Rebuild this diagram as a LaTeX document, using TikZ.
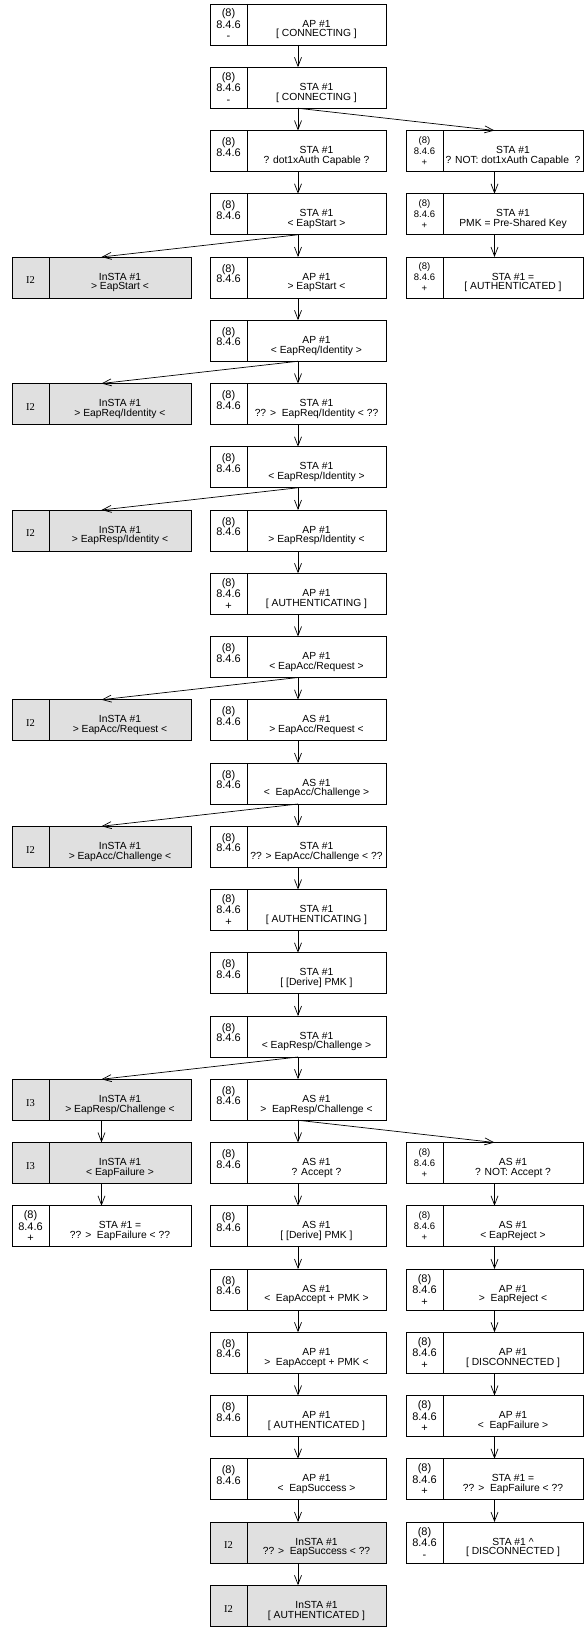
\documentclass[tikz,border=0pt]{standalone}
\usepackage{fontspec}
\setmainfont{Liberation Sans}
\newfontfamily\ifont{Liberation Serif}
\usetikzlibrary{arrows.meta,calc}
\definecolor{boxgray}{RGB}{224,224,224}
\tikzset{
 boxst/.style={draw, line width=0.7pt, minimum height=41pt, inner sep=0pt, outer sep=0pt, anchor=north west},
 wbox/.style={fill=white},
 gbox/.style={fill=boxgray},
 codetwo/.style={align=center, inner sep=0pt, font=\fontsize{11}{10.5}\selectfont, yshift=4pt},
 codethree/.style={align=center, inner sep=0pt, font=\fontsize{11}{11.5}\selectfont},
 codesmall/.style={align=center, inner sep=0pt, font=\fontsize{9.5}{11}\selectfont},
 codeI/.style={inner sep=0pt, font=\ifont\fontsize{10.5}{12}\selectfont, yshift=-3pt},
 maintext/.style={align=center, inner sep=0pt, font=\fontsize{10.3}{9.8}\selectfont, yshift=-5pt},
 arr/.style={line width=0.7pt, -{Straight Barb[length=9pt,width=7pt]}},
 divline/.style={line width=0.7pt},
}
% name, x0, row, width, fill, code style, code text, line1, line2
\newcommand\bx[9]{%
 \node[boxst,#5,minimum width=#4pt] (#1) at (#2,{4+63.25*#3}) {};
 \draw[divline] ($(#1.north west)+(37,0)$) -- ($(#1.south west)+(37,0)$);
 \node[#6] (#1c) at ($(#1.west)+(18.5,0)$) {#7};
 \node[maintext] (#1t) at ($(#1.center)+(18.5,0)$) {#8\\{}#9};
}
\newcommand\ctwo{(8)\\8.4.6}
\newcommand\cplus{(8)\\8.4.6\\+}
\newcommand\cminus{(8)\\8.4.6\\-}
\begin{document}
\begin{tikzpicture}[x=1pt,y=-1pt]
\useasboundingbox (0,0) rectangle (584,1627);
\fill[white] (0,0) rectangle (584,1627);
% centre column
\bx{C0}{210}{0}{176}{wbox}{codethree}{\cminus}{AP \#1}{[ CONNECTING ]}
\bx{C1}{210}{1}{176}{wbox}{codethree}{\cminus}{STA \#1}{[ CONNECTING ]}
\bx{C2}{210}{2}{176}{wbox}{codetwo}{\ctwo}{STA \#1}{? dot1xAuth Capable ?}
\bx{C3}{210}{3}{176}{wbox}{codetwo}{\ctwo}{STA \#1}{< EapStart >}
\bx{C4}{210}{4}{176}{wbox}{codetwo}{\ctwo}{AP \#1}{> EapStart <}
\bx{C5}{210}{5}{176}{wbox}{codetwo}{\ctwo}{AP \#1}{< EapReq/Identity >}
\bx{C6}{210}{6}{176}{wbox}{codetwo}{\ctwo}{STA \#1}{?? >~ EapReq/Identity < ??}
\bx{C7}{210}{7}{176}{wbox}{codetwo}{\ctwo}{STA \#1}{< EapResp/Identity >}
\bx{C8}{210}{8}{176}{wbox}{codetwo}{\ctwo}{AP \#1}{> EapResp/Identity <}
\bx{C9}{210}{9}{176}{wbox}{codethree}{\cplus}{AP \#1}{[ AUTHENTICATING ]}
\bx{C10}{210}{10}{176}{wbox}{codetwo}{\ctwo}{AP \#1}{< EapAcc/Request >}
\bx{C11}{210}{11}{176}{wbox}{codetwo}{\ctwo}{AS \#1}{> EapAcc/Request <}
\bx{C12}{210}{12}{176}{wbox}{codetwo}{\ctwo}{AS \#1}{<~ EapAcc/Challenge >}
\bx{C13}{210}{13}{176}{wbox}{codetwo}{\ctwo}{STA \#1}{?? > EapAcc/Challenge < ??}
\bx{C14}{210}{14}{176}{wbox}{codethree}{\cplus}{STA \#1}{[ AUTHENTICATING ]}
\bx{C15}{210}{15}{176}{wbox}{codetwo}{\ctwo}{STA \#1}{[ [Derive] PMK ]}
\bx{C16}{210}{16}{176}{wbox}{codetwo}{\ctwo}{STA \#1}{< EapResp/Challenge >}
\bx{C17}{210}{17}{176}{wbox}{codetwo}{\ctwo}{AS \#1}{>~ EapResp/Challenge <}
\bx{C18}{210}{18}{176}{wbox}{codetwo}{\ctwo}{AS \#1}{? Accept ?}
\bx{C19}{210}{19}{176}{wbox}{codetwo}{\ctwo}{AS \#1}{[ [Derive] PMK ]}
\bx{C20}{210}{20}{176}{wbox}{codetwo}{\ctwo}{AS \#1}{<~ EapAccept + PMK >}
\bx{C21}{210}{21}{176}{wbox}{codetwo}{\ctwo}{AP \#1}{>~ EapAccept + PMK <}
\bx{C22}{210}{22}{176}{wbox}{codetwo}{\ctwo}{AP \#1}{[ AUTHENTICATED ]}
\bx{C23}{210}{23}{176}{wbox}{codetwo}{\ctwo}{AP \#1}{<~ EapSuccess >}
\bx{C24}{210}{24}{176}{gbox}{codeI}{I2}{InSTA \#1}{?? >~ EapSuccess < ??}
\bx{C25}{210}{25}{176}{gbox}{codeI}{I2}{InSTA \#1}{[ AUTHENTICATED ]}
% left column
\bx{L4}{12}{4}{179}{gbox}{codeI}{I2}{InSTA \#1}{> EapStart <}
\bx{L6}{12}{6}{179}{gbox}{codeI}{I2}{InSTA \#1}{> EapReq/Identity <}
\bx{L8}{12}{8}{179}{gbox}{codeI}{I2}{InSTA \#1}{> EapResp/Identity <}
\bx{L11}{12}{11}{179}{gbox}{codeI}{I2}{InSTA \#1}{> EapAcc/Request <}
\bx{L13}{12}{13}{179}{gbox}{codeI}{I2}{InSTA \#1}{> EapAcc/Challenge <}
\bx{L17}{12}{17}{179}{gbox}{codeI}{I3}{InSTA \#1}{> EapResp/Challenge <}
\bx{L18}{12}{18}{179}{gbox}{codeI}{I3}{InSTA \#1}{< EapFailure >}
\bx{L19}{12}{19}{179}{wbox}{codethree}{\cplus}{STA \#1 =}{?? >~ EapFailure < ??}
% right column
\bx{R2}{406}{2}{177}{wbox}{codesmall}{\cplus}{STA \#1}{? NOT: dot1xAuth Capable\ \ ?}
\bx{R3}{406}{3}{177}{wbox}{codesmall}{\cplus}{STA \#1}{PMK = Pre-Shared Key}
\bx{R4}{406}{4}{177}{wbox}{codesmall}{\cplus}{STA \#1 =}{[ AUTHENTICATED ]}
\bx{R18}{406}{18}{177}{wbox}{codesmall}{\cplus}{AS \#1}{? NOT: Accept ?}
\bx{R19}{406}{19}{177}{wbox}{codesmall}{\cplus}{AS \#1}{< EapReject >}
\bx{R20}{406}{20}{177}{wbox}{codethree}{\cplus}{AP \#1}{>~ EapReject <}
\bx{R21}{406}{21}{177}{wbox}{codethree}{\cplus}{AP \#1}{[ DISCONNECTED ]}
\bx{R22}{406}{22}{177}{wbox}{codethree}{\cplus}{AP \#1}{<~ EapFailure >}
\bx{R23}{406}{23}{177}{wbox}{codethree}{\cplus}{STA \#1 =}{?? >~ EapFailure < ??}
\bx{R24}{406}{24}{177}{wbox}{codethree}{\cminus}{STA \#1 \textasciicircum}{[ DISCONNECTED ]}
% connectors
\foreach \i in {0,...,24} {
  \pgfmathtruncatemacro{\j}{\i+1}
  \draw[arr] (C\i.south) -- (C\j.north);
}
\draw[arr] (C1.south) -- (R2.north);
\draw[arr] (R2.south) -- (R3.north);
\draw[arr] (R3.south) -- (R4.north);
\draw[arr] (C3.south) -- (L4.north);
\draw[arr] (C5.south) -- (L6.north);
\draw[arr] (C7.south) -- (L8.north);
\draw[arr] (C10.south) -- (L11.north);
\draw[arr] (C12.south) -- (L13.north);
\draw[arr] (C16.south) -- (L17.north);
\draw[arr] (L17.south) -- (L18.north);
\draw[arr] (L18.south) -- (L19.north);
\draw[arr] (C17.south) -- (R18.north);
\foreach \i in {18,...,23} {
  \pgfmathtruncatemacro{\j}{\i+1}
  \draw[arr] (R\i.south) -- (R\j.north);
}
\end{tikzpicture}
\end{document}
